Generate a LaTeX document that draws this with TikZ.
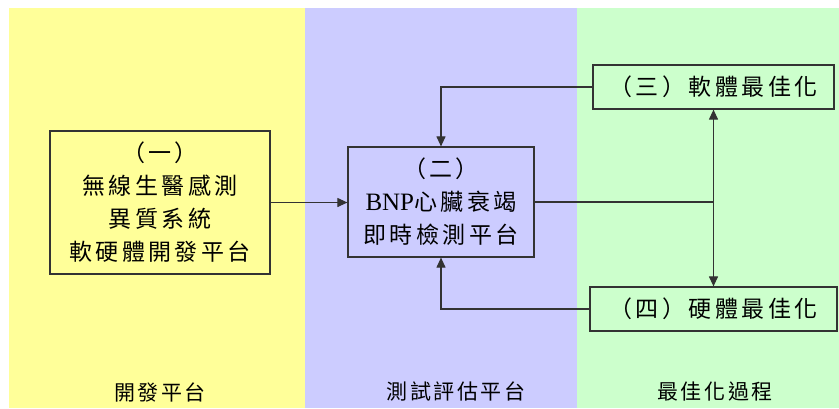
\documentclass[tikz,border=0pt]{standalone}
\usepackage{fontspec}
\setmainfont{Liberation Serif}
\newfontfamily\cjk[LetterSpace=15]{Noto Sans CJK TC}
\newfontfamily\cjklab[LetterSpace=12]{Noto Sans CJK TC}
\usetikzlibrary{arrows.meta}
\definecolor{paneY}{HTML}{FFFF99}
\definecolor{paneB}{HTML}{CCCCFF}
\definecolor{paneG}{HTML}{CCFFCC}
\definecolor{edge}{HTML}{333333}
\tikzset{
  boxnode/.style={draw=edge, line width=1.2pt, rectangle, align=center, inner sep=0pt,
    font=\cjk\fontsize{23}{33}\selectfont},
  panelabel/.style={font=\cjklab\fontsize{21}{24}\selectfont, inner sep=0pt},
  link/.style={draw=edge, line width=1.1pt},
  arr/.style={link, -{Triangle[length=10pt,width=9pt]}}
}
\begin{document}
\begin{tikzpicture}[x=1pt,y=-1pt]
\useasboundingbox (0,0) rectangle (839,408);
\fill[white] (0,0) rectangle (839,408);
\fill[paneY] (9,8) rectangle (305,408);
\fill[paneB] (305,8) rectangle (577,408);
\fill[paneG] (577,8) rectangle (839,408);

\node[boxnode, minimum width=220pt, minimum height=143pt] (b1) at (160,202.5)
  {（一）\\ 無線生醫感測\\ 異質系統\\ 軟硬體開發平台};
\node[boxnode, minimum width=186pt, minimum height=110pt] (b2) at (441,202)
  {（二）\\ {\fontsize{25}{33}\selectfont\rmfamily BNP}心臟衰竭\\ 即時檢測平台};
\node[boxnode, minimum width=241pt, minimum height=44pt] (b3) at (713.5,87)
  {（三）軟體最佳化};
\node[boxnode, minimum width=247pt, minimum height=44pt] (b4) at (713.5,309)
  {（四）硬體最佳化};

\node[panelabel] (l1) at (160,392) {開發平台};
\node[panelabel] (l2) at (456,392) {測試評估平台};
\node[panelabel] (l3) at (715,392) {最佳化過程};

\coordinate (j) at (b3.south |- b2.east);
\draw[arr] (b1.east) -- (b1.east -| b2.west);
\draw[link] (b2.east) -- (j);
\draw[arr] (j) -- (b3.south);
\draw[arr] (j) -- (b4.north);
\draw[arr] (b3.west) -| (b2.north);
\draw[arr] (b4.west) -| (b2.south);
\end{tikzpicture}
\end{document}
